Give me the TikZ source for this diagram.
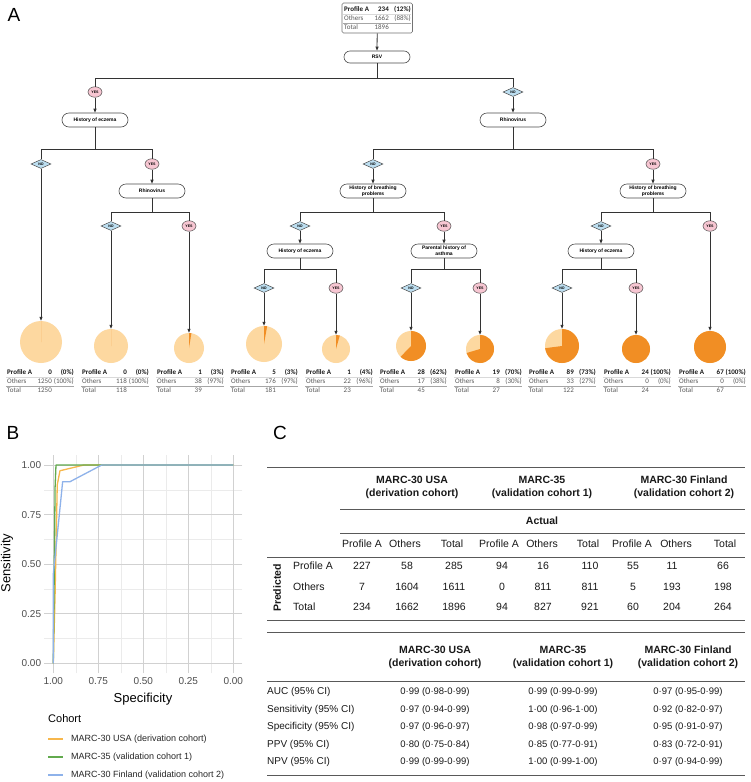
\documentclass[tikz,border=0pt]{standalone}
\usepackage{fontspec}
\setmainfont{Liberation Sans}
\newfontfamily\calib{Carlito}
\usetikzlibrary{arrows.meta,positioning,calc,shapes.geometric,shapes.misc}
\definecolor{pielight}{RGB}{253,216,160}
\definecolor{piedark}{RGB}{241,142,36}
\definecolor{yespink}{RGB}{247,198,210}
\definecolor{noblue}{RGB}{188,222,240}
\definecolor{rocorange}{RGB}{247,183,76}
\definecolor{rocgreen}{RGB}{98,170,78}
\definecolor{rocblue}{RGB}{142,178,234}
\definecolor{tickgrey}{RGB}{77,77,77}
\newcommand{\fsz}[2]{\fontsize{#1}{#2}\selectfont}
\tikzset{
  qbox/.style={rounded rectangle,draw=black!70,fill=white,line width=0.6pt,
               minimum width=68pt,minimum height=14pt,inner sep=1pt,
               font=\fsz{5}{6}\bfseries,align=center},
  yesl/.style={ellipse,draw=black!70,fill=yespink,line width=0.5pt,
               minimum width=14pt,minimum height=10.5pt,inner sep=0pt,
               font=\fsz{3.6}{4}\bfseries},
  nol/.style={diamond,aspect=2.2,draw=black!70,fill=noblue,line width=0.5pt,
              minimum width=20pt,minimum height=9pt,inner sep=0pt,
              font=\fsz{3.6}{4}\bfseries},
  tl/.style={black!80,line width=0.8pt},
  ta/.style={tl,-{Triangle[length=4pt,width=3pt]}},
  pt/.style={inner sep=0pt,anchor=base west,font=\calib\fsz{7}{8},text=black!65},
  ptr/.style={pt,anchor=base east},
  ptb/.style={font=\calib\fsz{7}{8}\bfseries,text=black!90},
  tick/.style={inner sep=0pt,font=\fsz{10}{12},text=tickgrey},
  axl/.style={inner sep=0pt,font=\fsz{13}{15}},
  leg/.style={inner sep=0pt,anchor=west,font=\fsz{9}{11},text=black!85},
  roc/.style={line width=1.3pt,line join=round},
  gmaj/.style={black!18,line width=0.8pt},
  gmin/.style={black!8,line width=0.5pt},
  cell/.style={inner sep=0pt,text height=7.5pt,text depth=2pt,
               font=\fsz{10.5}{12},text=black!90},
  hcell/.style={inner sep=0pt,font=\fsz{10.5}{13}\bfseries,align=center,text=black!90},
  rule/.style={black!65,line width=0.8pt},
  plab/.style={inner sep=0pt,font=\fsz{19}{20}},
}
% three rows of counts under a pie (name, left x, first baseline, ...)
\newcommand{\countrows}[8]{%
  \node[pt,ptb] (#1pa) at (#2,#3) {Profile A};
  \node[ptr,ptb] (#1pn) at (#2+45,#3) {#4};
  \node[ptr,ptb] (#1pp) at (#2+67,#3) {#5};
  \node[pt] (#1oa) at (#2,#3+9) {Others};
  \node[ptr] (#1on) at (#2+45,#3+9) {#6};
  \node[ptr] (#1op) at (#2+67,#3+9) {#7};
  \node[pt] (#1ta) at (#2,#3+18) {Total};
  \node[ptr] (#1tn) at (#2+45,#3+18) {#8};
  \draw[black!15,line width=0.5pt] (#2-1,#3+2.6) -- (#2+67,#3+2.6);
  \draw[black!35,line width=0.6pt] (#2-1,#3+11.6) -- (#2+67,#3+11.6);
}
% pie node with the Profile A share from 12 o'clock, clockwise
\newcommand{\piechart}[5]{%
  \node[circle,fill=pielight,inner sep=0pt,minimum size={2*#4pt}] (#1) at (#2,#3) {};
  \fill[piedark] (#1.center) -- ++(90:#4pt)
    arc[start angle=90,delta angle={-360*#5},radius=#4pt] -- cycle;
}
% elbow split from a question to its two answers
\newcommand{\branch}[4]{%
  \coordinate (#1bar) at (#1.south |- 0,#4);
  \draw[tl] (#1.south) -- (#1bar);
  \draw[tl] (#2.north) -- (#2.north |- #1bar) -- (#3.north |- #1bar) -- (#3.north);
}

\begin{document}
\begin{tikzpicture}[x=1pt,y=-1pt]
  \fill[white] (0,0) rectangle (750,782);
  \useasboundingbox (0,0) rectangle (750,782);

  % ---------------- A: tree
  \node[plab] (labA) at (14,15) {A};
  \node[draw=black!55,line width=0.6pt,rounded corners=1.5pt,minimum width=70.5pt,
        minimum height=30pt,inner sep=0pt] (topbox) at (377.2,18) {};
  \countrows{tb}{344}{11.8}{234}{(12\%)}{1662}{(88\%)}{1896}
  \node[qbox,minimum height=12pt] (rsv) at (377,57) {RSV};

  \node[yesl] (yesRsv) at (95,92) {YES};
  \node[nol] (noRsv) at (513,92) {NO};
  \node[qbox] (eczA) at (95,120) {History of eczema};
  \node[qbox] (rhiB) at (513,120) {Rhinovirus};

  \node[nol] (noEczA) at (41,164) {NO};
  \node[yesl] (yesEczA) at (152,164) {YES};
  \node[qbox] (rhiA) at (152,191) {Rhinovirus};
  \node[nol] (noRhiA) at (111,226) {NO};
  \node[yesl] (yesRhiA) at (189,226) {YES};

  \node[nol] (noRhiB) at (373,164) {NO};
  \node[yesl] (yesRhiB) at (653,164) {YES};
  \node[qbox] (brA) at (373,191) {History of breathing\\problems};
  \node[qbox] (brB) at (653,191) {History of breathing\\problems};
  \node[nol] (noBrA) at (300,226) {NO};
  \node[yesl] (yesBrA) at (444,226) {YES};
  \node[nol] (noBrB) at (601,226) {NO};
  \node[yesl] (yesBrB) at (710,226) {YES};
  \node[qbox] (eczB) at (300,251) {History of eczema};
  \node[qbox] (par) at (444,251) {Parental history of\\asthma};
  \node[qbox] (eczC) at (601,251) {History of eczema};
  \node[nol] (noEczB) at (264,288) {NO};
  \node[yesl] (yesEczB) at (336,288) {YES};
  \node[nol] (noPar) at (411,288) {NO};
  \node[yesl] (yesPar) at (480,288) {YES};
  \node[nol] (noEczC) at (562,288) {NO};
  \node[yesl] (yesEczC) at (636,288) {YES};

  \piechart{pieA}{41}{342}{21}{0}
  \piechart{pieB}{111}{346}{17}{0}
  \piechart{pieC}{189}{348}{15}{0.0256}
  \piechart{pieD}{264}{344}{18}{0.0276}
  \piechart{pieE}{336}{349}{14}{0.0435}
  \piechart{pieF}{411}{346}{15}{0.6222}
  \piechart{pieG}{480}{349}{14}{0.7037}
  \piechart{pieH}{562}{346}{17}{0.7295}
  \piechart{pieI}{636}{349}{14}{1}
  \piechart{pieJ}{710}{347}{16}{1}

  \draw[ta] (topbox.south) -- (rsv.north);
  \branch{rsv}{yesRsv}{noRsv}{78}
  \draw[ta] (yesRsv.south) -- (eczA.north);
  \draw[ta] (noRsv.south) -- (rhiB.north);
  \branch{eczA}{noEczA}{yesEczA}{149}
  \draw[ta] (noEczA.south) -- (pieA.north);
  \draw[ta] (yesEczA.south) -- (rhiA.north);
  \branch{rhiA}{noRhiA}{yesRhiA}{212}
  \draw[ta] (noRhiA.south) -- (pieB.north);
  \draw[ta] (yesRhiA.south) -- (pieC.north);
  \branch{rhiB}{noRhiB}{yesRhiB}{149}
  \draw[ta] (noRhiB.south) -- (brA.north);
  \draw[ta] (yesRhiB.south) -- (brB.north);
  \branch{brA}{noBrA}{yesBrA}{212}
  \branch{brB}{noBrB}{yesBrB}{212}
  \draw[ta] (noBrA.south) -- (eczB.north);
  \draw[ta] (yesBrA.south) -- (par.north);
  \draw[ta] (noBrB.south) -- (eczC.north);
  \draw[ta] (yesBrB.south) -- (pieJ.north);
  \branch{eczB}{noEczB}{yesEczB}{269}
  \branch{par}{noPar}{yesPar}{269}
  \branch{eczC}{noEczC}{yesEczC}{269}
  \draw[ta] (noEczB.south) -- (pieD.north);
  \draw[ta] (yesEczB.south) -- (pieE.north);
  \draw[ta] (noPar.south) -- (pieF.north);
  \draw[ta] (yesPar.south) -- (pieG.north);
  \draw[ta] (noEczC.south) -- (pieH.north);
  \draw[ta] (yesEczC.south) -- (pieI.north);

  \countrows{ca}{7}{374.5}{0}{(0\%)}{1250}{(100\%)}{1250}
  \countrows{cb}{82}{374.5}{0}{(0\%)}{118}{(100\%)}{118}
  \countrows{cc}{157}{374.5}{1}{(3\%)}{38}{(97\%)}{39}
  \countrows{cd}{231}{374.5}{5}{(3\%)}{176}{(97\%)}{181}
  \countrows{ce}{306}{374.5}{1}{(4\%)}{22}{(96\%)}{23}
  \countrows{cf}{380}{374.5}{28}{(62\%)}{17}{(38\%)}{45}
  \countrows{cg}{455}{374.5}{19}{(70\%)}{8}{(30\%)}{27}
  \countrows{ch}{529}{374.5}{89}{(73\%)}{33}{(27\%)}{122}
  \countrows{ci}{604}{374.5}{24}{(100\%)}{0}{(0\%)}{24}
  \countrows{cj}{679}{374.5}{67}{(100\%)}{0}{(0\%)}{67}

  % ---------------- B: ROC
  \node[plab] (labB) at (13,433) {B};
  \begin{scope}[shift={(233.3,663.3)},x=-180pt,y=198.3pt]
    \foreach \g in {0.125,0.375,0.625,0.875} {
      \draw[gmin] (\g,-0.05) -- (\g,1.05);
      \draw[gmin] (-0.05,\g) -- (1.05,\g);
    }
    \foreach \g in {0,0.25,0.5,0.75,1} {
      \draw[gmaj] (\g,-0.05) -- (\g,1.05);
      \draw[gmaj] (-0.05,\g) -- (1.05,\g);
    }
    \draw[roc,rocorange] plot coordinates {(1,0) (0.99,0.35) (0.978,0.9) (0.963,0.971) (0.83,1) (0,1)};
    \draw[roc,rocgreen] plot coordinates {(1,0) (0.99,0.89) (0.985,1) (0,1)};
    \draw[roc,rocblue] plot coordinates {(1,0) (1,0.45) (0.948,0.916) (0.907,0.916) (0.731,1) (0,1)};
    \foreach \g/\t [count=\i] in {0/0.00,0.25/0.25,0.5/0.50,0.75/0.75,1/1.00} {
      \node[tick,anchor=east,xshift=-3pt] (yt\i) at (1.05,\g) {\t};
      \node[tick,anchor=north,yshift=-4pt] (xt\i) at (\g,-0.05) {\t};
    }
  \end{scope}
  \node[axl,rotate=90] (sensl) at (7,563) {Sensitivity};
  \node[axl] (specl) at (143,699) {Specificity};
  \node[inner sep=0pt,anchor=west,font=\fsz{11}{13}] (cohort) at (48,719) {Cohort};
  \draw[roc,rocorange] (48,739) -- (63,739);
  \draw[roc,rocgreen] (48,757) -- (63,757);
  \draw[roc,rocblue] (48,775) -- (63,775);
  \node[leg] (legA) at (71,739) {MARC-30 USA (derivation cohort)};
  \node[leg] (legB) at (71,757) {MARC-35 (validation cohort 1)};
  \node[leg] (legC) at (71,775) {MARC-30 Finland (validation cohort 2)};

  % ---------------- C: tables
  \node[plab] (labC) at (280,433) {C};
  \draw[rule] (267,467) -- (745,467);
  \node[hcell] (hUSA) at (412,487) {MARC-30 USA\\(derivation cohort)};
  \node[hcell] (hM35) at (542,487) {MARC-35\\(validation cohort 1)};
  \node[hcell] (hFIN) at (684,487) {MARC-30 Finland\\(validation cohort 2)};
  \draw[rule] (340,509) -- (745,509);
  \node[hcell] (actual) at (542,521) {Actual};
  \draw[rule] (340,533) -- (745,533);
  \foreach \x/\t [count=\i] in {362/Profile A,405/Others,452/Total,499/Profile A,542/Others,
                                588/Total,632/Profile A,676/Others,725/Total}
    \node[cell] (ch\i) at (\x,545) {\t};
  \draw[rule] (267,557) -- (745,557);
  \node[cell,font=\fsz{10.5}{12}\bfseries,rotate=90] (pred) at (278,588) {Predicted};
  \foreach \y/\lab/\vals [count=\r] in {567/Profile A/{227,58,285,94,16,110,55,11,66},
                                      588/Others/{7,1604,1611,0,811,811,5,193,198},
                                      608/Total/{234,1662,1896,94,827,921,60,204,264}} {
    \node[cell,anchor=west] (rl\r) at (293,\y) {\lab};
    \foreach \v [count=\c] in \vals {
      \pgfmathsetmacro{\cx}{{362,407,454,502,543,590,633,672,723}[\c-1]}
      \node[cell] (v\r-\c) at (\cx,\y) {\v};
    }
  }
  \draw[rule] (267,620) -- (745,620);

  \draw[rule] (267,632) -- (745,632);
  \node[hcell] (sUSA) at (435,657) {MARC-30 USA\\(derivation cohort)};
  \node[hcell] (sM35) at (563,657) {MARC-35\\(validation cohort 1)};
  \node[hcell] (sFIN) at (688,657) {MARC-30 Finland\\(validation cohort 2)};
  \draw[rule] (267,681) -- (745,681);
  \foreach \y/\lab/\a/\b/\c [count=\r] in {
      692/AUC (95\% CI)/0·99 (0·98-0·99)/0·99 (0·99-0·99)/0·97 (0·95-0·99),
      710/Sensitivity (95\% CI)/0·97 (0·94-0·99)/1·00 (0·96-1·00)/0·92 (0·82-0·97),
      727/Specificity (95\% CI)/0·97 (0·96-0·97)/0·98 (0·97-0·99)/0·95 (0·91-0·97),
      745/PPV (95\% CI)/0·80 (0·75-0·84)/0·85 (0·77-0·91)/0·83 (0·72-0·91),
      762/NPV (95\% CI)/0·99 (0·99-0·99)/1·00 (0·99-1·00)/0·97 (0·94-0·99)} {
    \node[cell,anchor=west,font=\fsz{10}{12}] (ml\r) at (267,\y) {\lab};
    \node[cell,font=\fsz{9.5}{12}] (ma\r) at (435,\y) {\a};
    \node[cell,font=\fsz{9.5}{12}] (mb\r) at (563,\y) {\b};
    \node[cell,font=\fsz{9.5}{12}] (mc\r) at (688,\y) {\c};
  }
  \draw[rule] (267,775) -- (745,775);
\end{tikzpicture}
\end{document}
